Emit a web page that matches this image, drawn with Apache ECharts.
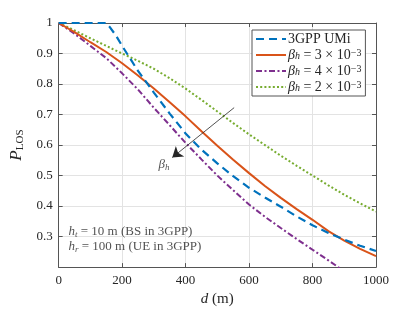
<!DOCTYPE html>
<html>
<head>
<meta charset="utf-8">
<script src="https://cdn.jsdelivr.net/npm/echarts@6/dist/echarts.min.js"></script>
<style>html,body{margin:0;padding:0;background:#fff}#c{width:415px;height:312px}</style>
</head>
<body>
<div id="c"></div>
<script>
// ---- data ----
const umiD = [0,50,100,150,160,180,200,250,300,350,400,450,500,550,600,650,700,750,800,850,900,950,1000];
const umiP = [1,1,1,1,0.988,0.96,0.925,0.843,0.772,0.703,0.638,0.585,0.54,0.498,0.46,0.428,0.398,0.366,0.337,0.312,0.29,0.27,0.253];
const dist = [0,50,100,150,200,250,300,350,400,450,500,550,600,650,700,750,800,850,900,950,1000];
const beta3P = [1,0.97,0.937,0.905,0.868,0.828,0.785,0.74,0.694,0.645,0.598,0.552,0.508,0.466,0.427,0.39,0.355,0.318,0.287,0.26,0.236];
const beta4D = [0,50,100,150,200,250,300,350,400,450,500,550,600,650,700,750,800,850,900];
const beta4P = [1,0.965,0.925,0.885,0.835,0.782,0.722,0.665,0.607,0.553,0.5,0.452,0.405,0.365,0.328,0.292,0.257,0.222,0.186];
const beta2P = [1,0.976,0.95,0.925,0.9,0.876,0.85,0.819,0.785,0.748,0.71,0.672,0.635,0.6,0.565,0.532,0.5,0.468,0.437,0.409,0.382];
const xTicks = [0,200,400,600,800,1000];
const yTicks = [0.3,0.4,0.5,0.6,0.7,0.8,0.9,1];
const seriesNames = ['3GPP UMi','b3','b4','b2'];
const legendLabels = {
  '3GPP UMi': '{t|3GPP UMi}',
  'b3': '{b|β}{sub|h}{t| = 3 × 10}{sup|−3}',
  'b4': '{b|β}{sub|h}{t| = 4 × 10}{sup|−3}',
  'b2': '{b|β}{sub|h}{t| = 2 × 10}{sup|−3}'
};
const arrowFrom = [553, 0.7226];
const arrowTo = [358, 0.559];
const betaLabelPos = [332, 0.535];
const noteLines = [
  {pos:[31, 0.315], text:'{i|h}{sub|t}{t| = 10 m (BS in 3GPP)}'},
  {pos:[31, 0.266], text:'{i|h}{sub|r}{t| = 100 m (UE in 3GPP)}'}
];

const FONT = '"Liberation Serif","DejaVu Serif",serif';
const TXT = '#262626';
function rich(fs, lh){
  return {
    t:{fontFamily:FONT,fontSize:fs,color:TXT,lineHeight:lh},
    i:{fontFamily:FONT,fontSize:fs,color:TXT,fontStyle:'italic',lineHeight:lh},
    b:{fontFamily:FONT,fontSize:fs,color:TXT,fontStyle:'italic',lineHeight:lh},
    sub:{fontFamily:FONT,fontSize:Math.round(fs*0.7),color:TXT,fontStyle:'italic',verticalAlign:'bottom',lineHeight:7},
    sup:{fontFamily:FONT,fontSize:Math.round(fs*0.7),color:TXT,verticalAlign:'top',lineHeight:7}
  };
}

const zip = (a,b)=>a.map((v,i)=>[v,b[i]]);
const chart = echarts.init(document.getElementById('c'), null, {renderer:'canvas'});

const gridLine = {show:true, lineStyle:{color:'#e3e3e3', width:1}};
const frameLine = {show:true, onZero:false, lineStyle:{color:'#555', width:1}};
const tick = {show:true, inside:true, length:4, lineStyle:{color:'#555'}};

const option = {
  animation:false,
  backgroundColor:'#fff',
  grid:{left:54, right:39, top:23, bottom:40},
  xAxis:[{
    type:'value', min:0, max:1000, interval:200,
    axisLine:frameLine, axisTick:tick,
    axisLabel:{margin:7, fontFamily:FONT, fontSize:13, color:TXT,
      formatter:v=>xTicks.includes(v)?String(v):''},
    splitLine:gridLine,
    name:'{i|d} (m)', nameLocation:'middle', nameGap:22,
    nameTextStyle:{fontFamily:FONT, fontSize:15, color:TXT,
      rich:{i:{fontFamily:FONT,fontSize:15,fontStyle:'italic',color:TXT}}}
  },{
    type:'value', position:'top', min:0, max:1000, interval:200,
    axisLine:frameLine, axisTick:tick,
    axisLabel:{show:false}, splitLine:{show:false}
  }],
  yAxis:[{
    type:'value', min:0.2, max:1, interval:0.1,
    axisLine:frameLine, axisTick:tick,
    axisLabel:{margin:6, fontFamily:FONT, fontSize:13, color:TXT,
      formatter:v=>{const r=Math.round(v*10)/10; return yTicks.includes(r)?(r===1?'1':r.toFixed(1)):'';}},
    splitLine:gridLine,
    name:'{p|P}{s|LOS}', nameLocation:'middle', nameGap:27, nameRotate:90,
    nameTextStyle:{rich:{
      p:{fontFamily:FONT,fontSize:17,fontStyle:'italic',color:TXT,lineHeight:18},
      s:{fontFamily:FONT,fontSize:11,color:TXT,verticalAlign:'bottom',lineHeight:8}
    }}
  },{
    type:'value', position:'right', min:0.2, max:1, interval:0.1,
    axisLine:frameLine, axisTick:tick,
    axisLabel:{show:false}, splitLine:{show:false}
  }],
  legend:{
    data:seriesNames, orient:'vertical', left:252, top:30,
    itemWidth:30, itemHeight:12, itemGap:2,
    padding:[2,4,2,3], backgroundColor:'#fff', borderColor:'#555', borderWidth:1,
    borderRadius:0,
    itemStyle:{opacity:0},
    formatter:n=>legendLabels[n],
    textStyle:{rich:rich(14,13), padding:[0,0,0,-3]}
  },
  series:[
    {name:'3GPP UMi', type:'line', data:zip(umiD,umiP), showSymbol:false, symbol:'none',
     lineStyle:{color:'#0072BD', width:2.2, type:[8,5]}, itemStyle:{color:'#0072BD'}, z:5},
    {name:'b3', type:'line', data:zip(dist,beta3P), showSymbol:false, symbol:'none',
     lineStyle:{color:'#D95319', width:2}, itemStyle:{color:'#D95319'}, z:4},
    {name:'b4', type:'line', data:zip(beta4D,beta4P), showSymbol:false, symbol:'none',
     lineStyle:{color:'#7E2F8E', width:2, type:[6,2.5,2,2.5]}, itemStyle:{color:'#7E2F8E'}, z:3},
    {name:'b2', type:'line', data:zip(dist,beta2P), showSymbol:false, symbol:'none',
     lineStyle:{color:'#77AC30', width:2, type:[2,2.2]}, itemStyle:{color:'#77AC30'}, z:2},
    {name:'arrow', type:'line', data:[], showSymbol:false, silent:true,
     markLine:{silent:true, animation:false, symbol:['none','arrow'], symbolSize:10,
       label:{show:false}, lineStyle:{color:'#262626', width:0.8, type:'solid', opacity:1},
       itemStyle:{color:'#262626'},
       data:[[{coord:arrowFrom},{coord:arrowTo}]]}},
    {name:'notes', type:'scatter', symbolSize:0, silent:true,
     data:[
       {value:betaLabelPos, label:{align:'center'}},
       {value:noteLines[0].pos, label:{align:'left'}},
       {value:noteLines[1].pos, label:{align:'left'}}
     ],
     label:{show:true, position:'inside',
       formatter:p=>p.dataIndex===0?'{b|β}{sub|h}':noteLines[p.dataIndex-1].text,
       rich:rich(13,14)}}
  ]
};
chart.setOption(option);
</script>
</body>
</html>
